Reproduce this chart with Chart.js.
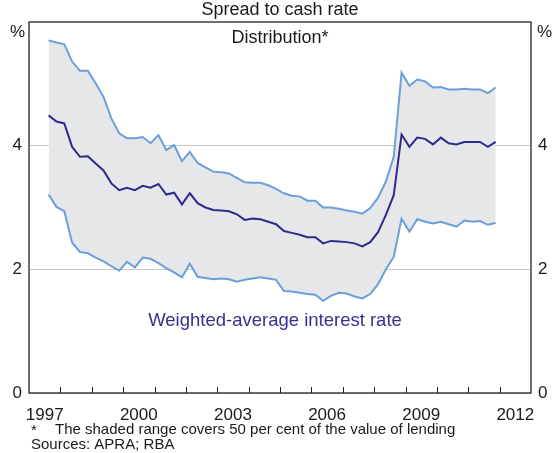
<!DOCTYPE html>
<html lang="en">
<head>
    <meta charset="UTF-8">
    <title>Spread to cash rate</title>
    <script src="https://cdn.jsdelivr.net/npm/chart.js"></script>
    <style>
        html, body { margin: 0; padding: 0; background: #fff; }
        #wrap { width: 553px; height: 453px; }
    </style>
</head>
<body>
<div id="wrap"><canvas id="spreadChart" width="553" height="453"></canvas></div>
<script>
    // quarterly observations, first one at 1997.625
    const firstQuarter = 1997.625;
    const upperQuartile = [5.70, 5.67, 5.64, 5.36, 5.21, 5.21, 5.01, 4.79, 4.44, 4.20, 4.12, 4.12, 4.14, 4.04, 4.17, 3.93, 4.01, 3.75, 3.90, 3.72, 3.65, 3.58,
        3.57, 3.55, 3.48, 3.41, 3.40, 3.40, 3.36, 3.30, 3.23, 3.19, 3.18, 3.11, 3.11, 3.00, 3.00, 2.98, 2.95, 2.93, 2.90, 2.99, 3.16, 3.42, 3.82,
        5.18, 4.97, 5.07, 5.04, 4.94, 4.95, 4.91, 4.91, 4.92, 4.91, 4.91, 4.85, 4.94];
    const weightedAverage = [4.49, 4.39, 4.36, 3.98, 3.82, 3.83, 3.71, 3.60, 3.39, 3.28, 3.32, 3.28, 3.35, 3.32, 3.38, 3.21, 3.24, 3.05, 3.23, 3.07, 3.00, 2.96,
        2.95, 2.94, 2.89, 2.80, 2.82, 2.81, 2.77, 2.73, 2.62, 2.59, 2.56, 2.52, 2.52, 2.42, 2.46, 2.45, 2.44, 2.42, 2.37, 2.44, 2.60, 2.88, 3.20,
        4.18, 3.98, 4.13, 4.11, 4.02, 4.13, 4.04, 4.02, 4.06, 4.06, 4.06, 3.98, 4.06];
    const lowerQuartile = [3.21, 3.01, 2.94, 2.43, 2.28, 2.26, 2.19, 2.13, 2.05, 1.98, 2.12, 2.03, 2.19, 2.17, 2.10, 2.02, 1.95, 1.87, 2.09, 1.88, 1.86, 1.84,
        1.85, 1.84, 1.80, 1.83, 1.85, 1.87, 1.85, 1.83, 1.65, 1.64, 1.62, 1.60, 1.59, 1.49, 1.57, 1.62, 1.61, 1.56, 1.53, 1.60, 1.76, 2.00, 2.20,
        2.82, 2.61, 2.81, 2.77, 2.74, 2.77, 2.73, 2.69, 2.79, 2.77, 2.78, 2.72, 2.75];
    const yearLabels = [1997, 2000, 2003, 2006, 2009, 2012];
    const yTicks = [0, 2, 4];

    const FONT = 'Arial, "Liberation Sans", sans-serif';
    const lightBlue = '#6b9fdc';
    const navy = '#2d2b8c';

    const toPoints = arr => arr.map((v, i) => ({ x: firstQuarter + i * 0.25, y: v }));

    // frame, year tick marks and text annotations
    const decorations = {
        id: 'decorations',
        afterDraw(chart) {
            const { ctx, chartArea: a, scales } = chart;
            const x = scales.x;
            ctx.save();
            ctx.strokeStyle = '#222';
            ctx.lineWidth = 1;
            for (let yr = 1998; yr <= 2012; yr++) {
                const px = Math.round(x.getPixelForValue(yr)) + 0.5;
                ctx.beginPath();
                ctx.moveTo(px, a.bottom);
                ctx.lineTo(px, a.bottom - 6);
                ctx.stroke();
            }
            ctx.lineWidth = 1.3;
            ctx.strokeRect(a.left, a.top, a.right - a.left, a.bottom - a.top);

            ctx.fillStyle = '#1a1a1a';
            ctx.textBaseline = 'middle';
            ctx.font = '18px ' + FONT;
            ctx.textAlign = 'center';
            ctx.fillText('Spread to cash rate', (a.left + a.right) / 2, 10);
            ctx.fillText('Distribution*', (a.left + a.right) / 2, 38);
            ctx.font = '17px ' + FONT;
            ctx.textAlign = 'right';
            ctx.fillText('%', a.left - 4, 32);
            ctx.textAlign = 'left';
            ctx.fillText('%', a.right + 6, 32);

            ctx.fillStyle = '#33338f';
            ctx.textAlign = 'center';
            ctx.font = '18.5px ' + FONT;
            ctx.fillText('Weighted-average interest rate', 275, 321);

            ctx.fillStyle = '#1a1a1a';
            ctx.font = '15px ' + FONT;
            ctx.textAlign = 'left';
            ctx.fillText('*', 31, 431);
            ctx.fillText('The shaded range covers 50 per cent of the value of lending', 55, 430);
            ctx.fillText('Sources: APRA; RBA', 31, 445);
            ctx.restore();
        }
    };

    const yAxis = (position, width) => ({
        position: position,
        min: 0,
        max: 6,
        afterBuildTicks: s => { s.ticks = yTicks.map(v => ({ value: v })); },
        afterFit: s => { s.width = width; },
        grid: { display: position === 'left', color: '#c8c8c8', lineWidth: 1, drawTicks: false },
        border: { display: false },
        ticks: {
            padding: 7,
            color: '#1a1a1a',
            font: { family: FONT, size: 17 }
        }
    });

    new Chart(document.getElementById('spreadChart').getContext('2d'), {
        type: 'line',
        data: {
            datasets: [
                {
                    label: 'Upper',
                    data: toPoints(upperQuartile),
                    borderColor: lightBlue,
                    borderWidth: 2,
                    backgroundColor: '#e6e7e9',
                    fill: '+2',
                    pointRadius: 0,
                    tension: 0,
                    order: 2
                },
                {
                    label: 'Weighted-average interest rate',
                    data: toPoints(weightedAverage),
                    borderColor: navy,
                    borderWidth: 2,
                    fill: false,
                    pointRadius: 0,
                    tension: 0,
                    order: 0
                },
                {
                    label: 'Lower',
                    data: toPoints(lowerQuartile),
                    borderColor: lightBlue,
                    borderWidth: 2,
                    fill: false,
                    pointRadius: 0,
                    tension: 0,
                    order: 1
                }
            ]
        },
        options: {
            responsive: false,
            animation: false,
            devicePixelRatio: 1,
            layout: { padding: { top: 22, left: 0, right: 0, bottom: 0 } },
            plugins: {
                legend: { display: false },
                tooltip: { enabled: false },
                filler: { drawTime: 'beforeDatasetsDraw' }
            },
            scales: {
                x: {
                    type: 'linear',
                    min: 1997,
                    max: 2013,
                    afterBuildTicks: s => { s.ticks = yearLabels.map(y => ({ value: y + 0.5 })); },
                    afterFit: s => { s.height = 60; },
                    grid: { display: false },
                    border: { display: false },
                    ticks: {
                        padding: 4,
                        maxRotation: 0,
                        autoSkip: false,
                        color: '#1a1a1a',
                        font: { family: FONT, size: 17 },
                        callback: v => String(Math.floor(v))
                    }
                },
                y: yAxis('left', 29),
                y2: yAxis('right', 22)
            }
        },
        plugins: [decorations]
    });
</script>
</body>
</html>
